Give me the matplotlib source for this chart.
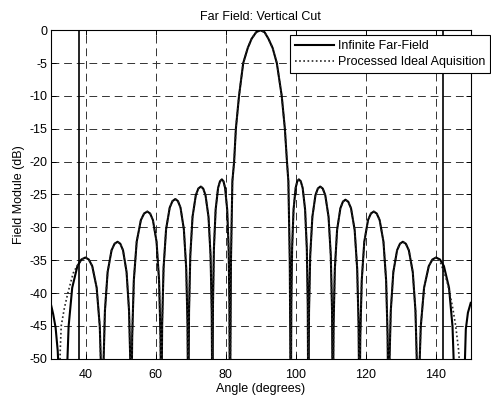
import matplotlib
matplotlib.use("Agg")
import matplotlib.pyplot as plt

plt.rcParams['font.family'] = ['Liberation Sans', 'DejaVu Sans']
plt.rcParams['axes.unicode_minus'] = False

# Infinite far-field cut (dB), read lobe by lobe off the picture.
# Values of -60 mark nulls below the -50 dB floor.
far_angle = [
    30.0, 30.7, 31.4, 32.0, 32.35, 32.6,
    34.2, 34.54, 35.11, 36.14, 37.62, 38.76, 39.9, 40.88, 41.86, 43.13, 44.02, 44.51,
    44.8, 45.06, 45.49, 46.26, 47.38, 48.24, 49.1, 49.88, 50.66, 51.67, 52.38, 52.77,
    53.0, 53.28, 53.74, 54.56, 55.76, 56.68, 57.6, 58.4, 59.2, 60.24, 60.96, 61.36,
    61.6, 61.84, 62.24, 62.96, 64.0, 64.8, 65.6, 66.34, 67.08, 68.04, 68.71, 69.08,
    69.3, 69.52, 69.88, 70.52, 71.46, 72.18, 72.9, 73.56, 74.22, 75.08, 75.67, 76.0,
    76.2, 76.36, 76.63, 77.12, 77.82, 78.36, 78.9, 79.36, 79.82, 80.42, 80.83, 81.06,
    81.2, 81.5, 81.9, 82.4, 82.9, 83.8, 85.0, 86.3, 87.4, 88.7, 89.9,
    91.1, 92.2, 93.4, 94.6, 96.0, 96.9, 97.5, 97.9, 98.3,
    98.6, 98.74, 98.97, 99.38, 99.98, 100.44, 100.9, 101.44, 101.98, 102.68, 103.17, 103.44,
    103.6, 103.8, 104.14, 104.76, 105.64, 106.32, 107.0, 107.72, 108.44, 109.38, 110.02, 110.38,
    110.6, 110.82, 111.18, 111.82, 112.76, 113.48, 114.2, 115.0, 115.8, 116.84, 117.56, 117.96,
    118.2, 118.45, 118.86, 119.59, 120.66, 121.48, 122.3, 123.14, 123.98, 125.07, 125.83, 126.25,
    126.5, 126.75, 127.16, 127.89, 128.96, 129.78, 130.6, 131.46, 132.32, 133.44, 134.21, 134.64,
    134.9, 135.21, 135.73, 136.67, 138.02, 139.06, 140.1, 141.22, 142.34, 143.8, 144.8, 145.36, 145.7,
    148.0, 148.25, 148.6, 149.2, 150.0,
]
far_db = [
    -41.6, -43.2, -45.3, -48.8, -53.0, -60.0,
    -60.0, -53.6, -45.1, -39.2, -35.9, -34.9, -34.6, -34.9, -35.9, -39.2, -45.1, -53.6,
    -60.0, -51.2, -42.7, -36.8, -33.5, -32.5, -32.2, -32.5, -33.5, -36.8, -42.7, -51.2,
    -60.0, -46.6, -38.1, -32.2, -28.9, -27.9, -27.6, -27.9, -28.9, -32.2, -38.1, -46.6,
    -60.0, -44.7, -36.2, -30.3, -27.0, -26.0, -25.7, -26.0, -27.0, -30.3, -36.2, -44.7,
    -60.0, -42.8, -34.3, -28.4, -25.1, -24.1, -23.8, -24.1, -25.1, -28.4, -34.3, -42.8,
    -60.0, -41.7, -33.2, -27.3, -24.0, -23.0, -22.7, -23.0, -24.0, -27.3, -33.2, -41.7,
    -60.0, -35.0, -23.0, -20.0, -15.0, -10.0, -5.0, -2.7, -1.3, -0.3, 0.0,
    -0.3, -1.3, -2.7, -5.0, -10.0, -15.0, -20.0, -23.0, -35.0,
    -60.0, -41.7, -33.2, -27.3, -24.0, -23.0, -22.7, -23.0, -24.0, -27.3, -33.2, -41.7,
    -60.0, -42.8, -34.3, -28.4, -25.1, -24.1, -23.8, -24.1, -25.1, -28.4, -34.3, -42.8,
    -60.0, -44.8, -36.3, -30.4, -27.1, -26.1, -25.8, -26.1, -27.1, -30.4, -36.3, -44.8,
    -60.0, -46.6, -38.1, -32.2, -28.9, -27.9, -27.6, -27.9, -28.9, -32.2, -38.1, -46.6,
    -60.0, -51.2, -42.7, -36.8, -33.5, -32.5, -32.2, -32.5, -33.5, -36.8, -42.7, -51.2,
    -60.0, -53.6, -45.1, -39.2, -35.9, -34.9, -34.6, -34.9, -35.9, -39.2, -45.1, -53.6, -60.0,
    -60.0, -52.0, -45.5, -43.0, -41.5,
]

# Processed ideal acquisition: differs from the far field only at the edges
ideal_left_angle = [32.4, 32.7, 33.0, 33.9, 34.9, 36.4, 37.5, 38.3, 39.1]
ideal_left_db = [-60.0, -49.0, -45.0, -42.3, -40.0, -37.0, -35.9, -35.3, -34.8]
ideal_right_angle = [141.3, 142.5, 143.3, 144.0, 144.9, 145.7, 146.5, 147.0, 147.4]
ideal_right_db = [-35.3, -37.0, -38.4, -40.0, -42.4, -45.0, -48.5, -52.0, -60.0]

# solid vertical markers (acquisition limits)
limit_angles = [38.0, 142.0]

x_ticks = [40, 60, 80, 100, 120, 140]
y_ticks = [0, -5, -10, -15, -20, -25, -30, -35, -40, -45, -50]

shared = [(a, d) for a, d in zip(far_angle, far_db) if 39.9 <= a <= 140.1]
ideal_angle = ideal_left_angle + [a for a, _ in shared] + ideal_right_angle
ideal_db = ideal_left_db + [d for _, d in shared] + ideal_right_db

fig = plt.figure(figsize=(4.91, 3.96), dpi=100)
ax = fig.add_axes([0.1033, 0.0942, 0.8554, 0.8295])

ax.plot(far_angle, far_db, color='k', lw=1.5, label='Infinite Far-Field')
ax.plot(ideal_angle, ideal_db, color='0.15', lw=1.2, linestyle=(0, (1, 1.5)),
        label='Processed Ideal Aquisition')
for a in limit_angles:
    ax.axvline(a, color='k', lw=1.2)

ax.set_xlim(30, 150)
ax.set_ylim(-50, 0)
ax.set_xticks(x_ticks)
ax.set_yticks(y_ticks)
ax.set_yticklabels([str(v) for v in y_ticks])
ax.grid(True, color='0.2', lw=0.7, linestyle=(0, (8, 5)))
ax.tick_params(direction='in', length=3.5, width=0.7, top=True, right=True,
               labelsize=9)
ax.tick_params(axis='x', pad=7.5)
ax.tick_params(axis='y', pad=2.5)
for s in ax.spines.values():
    s.set_linewidth(0.8)

ax.set_title('Far Field: Vertical Cut', fontsize=9, pad=7)
ax.set_xlabel('Angle (degrees)', fontsize=9, labelpad=1)
ax.set_ylabel('Field Module (dB)', fontsize=9, labelpad=3)

leg = fig.legend(loc='upper left', bbox_to_anchor=(290 / 491, 1 - 35 / 396),
                 bbox_transform=fig.transFigure, fontsize=9, fancybox=False,
                 framealpha=1, edgecolor='k', borderaxespad=0, borderpad=0.4,
                 handlelength=3.1, handletextpad=0.3, labelspacing=0.35)
leg.get_frame().set_linewidth(0.8)

fig.savefig('out.png', dpi=100)
